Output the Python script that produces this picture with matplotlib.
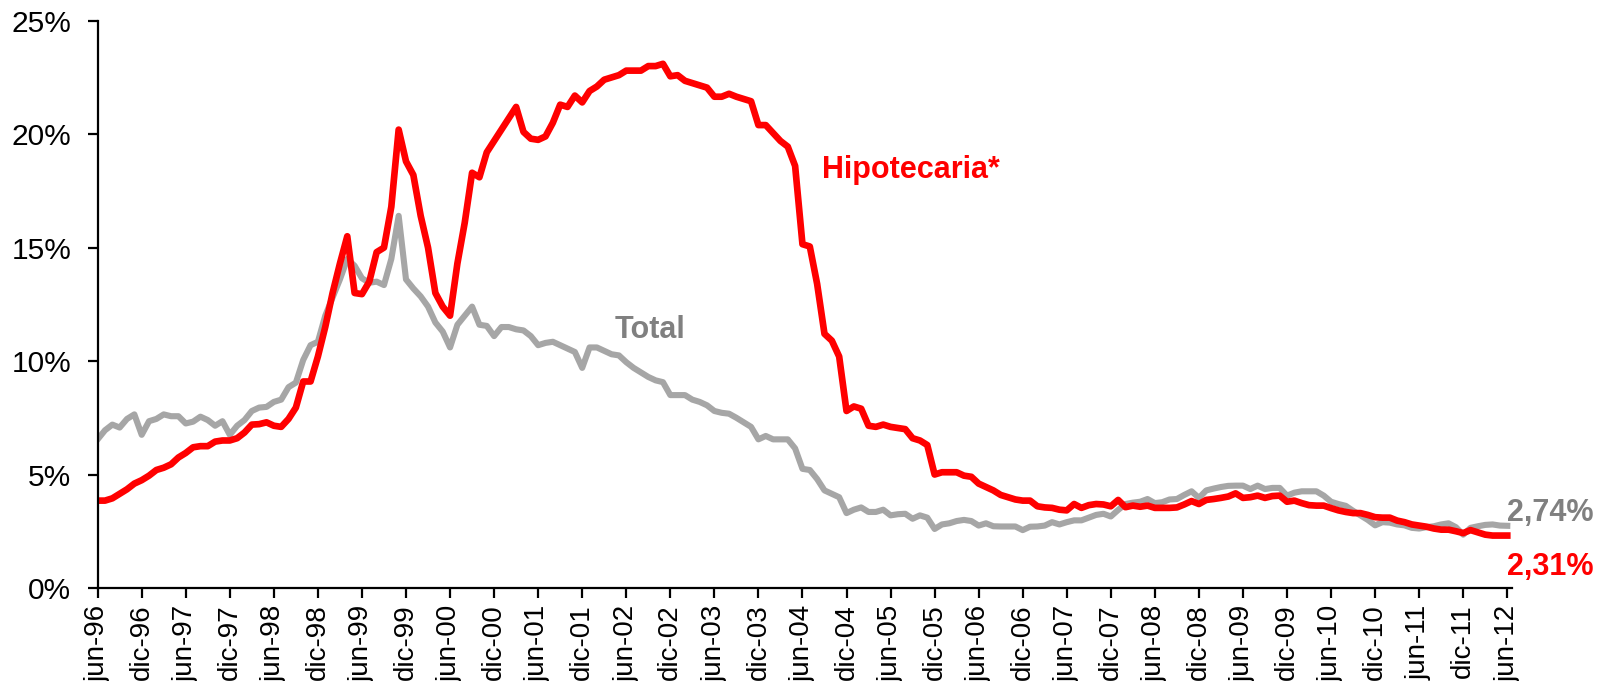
import matplotlib
matplotlib.use("Agg")
import matplotlib.pyplot as plt
import numpy as np

# tasa de morosidad mensual, jun-96 .. jun-12 (%)
hipotecaria = [
    3.85, 3.85, 3.95, 4.15, 4.35, 4.6, 4.75, 4.95, 5.2, 5.3, 5.45, 5.75, 5.95,
    6.2, 6.25, 6.25, 6.45, 6.5, 6.5, 6.6, 6.85, 7.2, 7.22, 7.3, 7.15,
    7.1, 7.45, 7.95, 9.1, 9.1, 10.2, 11.5, 13.0, 14.3, 15.5, 13.0, 12.95,
    13.5, 14.8, 15.0, 16.8, 20.2, 18.8, 18.2, 16.4, 15.0, 13.0, 12.4, 12.0, 14.3,
    16.1, 18.3, 18.1, 19.2, 19.7, 20.2, 20.7, 21.2, 20.1, 19.8, 19.75, 19.9,
    20.5, 21.3, 21.2, 21.7, 21.4, 21.9, 22.1, 22.4, 22.5, 22.6, 22.8, 22.8,
    22.8, 23.0, 23.0, 23.1, 22.55, 22.6, 22.35, 22.25, 22.15, 22.05, 21.65, 21.65,
    21.78, 21.65, 21.55, 21.45, 20.4, 20.4, 20.05, 19.7, 19.45, 18.6, 15.15, 15.05,
    13.4, 11.2, 10.9, 10.2, 7.8, 8.0, 7.9, 7.15, 7.1, 7.2, 7.1, 7.05,
    7.0, 6.6, 6.5, 6.3, 5.0, 5.1, 5.1, 5.1, 4.95, 4.9, 4.6, 4.45,
    4.3, 4.1, 4.0, 3.9, 3.85, 3.85, 3.6, 3.55, 3.53, 3.45, 3.42, 3.7, 3.53,
    3.65, 3.7, 3.68, 3.6, 3.88, 3.56, 3.63, 3.58, 3.63, 3.53, 3.53, 3.53,
    3.55, 3.68, 3.83, 3.7, 3.88, 3.92, 3.97, 4.03, 4.17, 3.97, 4.0, 4.07,
    3.97, 4.05, 4.07, 3.8, 3.85, 3.74, 3.65, 3.63, 3.63, 3.52, 3.42, 3.35,
    3.3, 3.3, 3.22, 3.12, 3.1, 3.1, 2.97, 2.9, 2.8, 2.75, 2.7,
    2.62, 2.57, 2.57, 2.5, 2.42, 2.55, 2.45, 2.35, 2.31, 2.31, 2.31,
]

total = [
    6.55, 6.95, 7.2, 7.07, 7.45, 7.65, 6.75, 7.35, 7.45, 7.65, 7.57, 7.57, 7.25,
    7.33, 7.55, 7.4, 7.15, 7.35, 6.75, 7.15, 7.4, 7.8, 7.95, 7.98, 8.2,
    8.3, 8.85, 9.05, 10.05, 10.7, 10.85, 12.0, 12.8, 13.6, 14.5, 14.2, 13.65,
    13.45, 13.5, 13.35, 14.5, 16.4, 13.6, 13.2, 12.85, 12.4, 11.7, 11.3, 10.6, 11.6,
    12.0, 12.4, 11.6, 11.55, 11.1, 11.5, 11.5, 11.4, 11.35, 11.1, 10.7, 10.8,
    10.85, 10.7, 10.55, 10.4, 9.7, 10.6, 10.6, 10.45, 10.3, 10.25, 9.95, 9.7,
    9.5, 9.3, 9.15, 9.07, 8.5, 8.5, 8.5, 8.3, 8.2, 8.05, 7.8, 7.72,
    7.68, 7.5, 7.3, 7.1, 6.55, 6.7, 6.55, 6.55, 6.55, 6.15, 5.25, 5.2,
    4.8, 4.3, 4.15, 4.0, 3.3, 3.45, 3.55, 3.35, 3.35, 3.45, 3.2, 3.25,
    3.27, 3.05, 3.2, 3.1, 2.6, 2.8, 2.85, 2.95, 3.0, 2.95, 2.75, 2.85,
    2.72, 2.71, 2.71, 2.71, 2.55, 2.7, 2.71, 2.75, 2.9, 2.8, 2.9, 2.98, 2.98,
    3.1, 3.22, 3.27, 3.15, 3.44, 3.7, 3.76, 3.8, 3.92, 3.74, 3.78, 3.9,
    3.92, 4.1, 4.26, 3.97, 4.3, 4.38, 4.45, 4.5, 4.51, 4.51, 4.36, 4.51,
    4.36, 4.41, 4.41, 4.07, 4.2, 4.26, 4.26, 4.26, 4.07, 3.8, 3.7, 3.62,
    3.4, 3.2, 3.0, 2.76, 2.9, 2.88, 2.8, 2.76, 2.65, 2.62, 2.68,
    2.72, 2.8, 2.85, 2.68, 2.35, 2.65, 2.72, 2.78, 2.8, 2.75, 2.74,
]

years = [f"{y % 100:02d}" for y in range(1996, 2013)]
tick_labels = []
for yy in years:
    tick_labels.append(f"jun-{yy}")
    if yy != "12":
        tick_labels.append(f"dic-{yy}")

y_ticks = [0, 5, 10, 15, 20, 25]
y_tick_labels = ["0%", "5%", "10%", "15%", "20%", "25%"]

RED = "#FF0000"
GRAY_LINE = "#A6A6A6"
GRAY_TEXT = "#808080"

plt.rcParams["font.family"] = ["Liberation Sans", "DejaVu Sans"]

fig = plt.figure(figsize=(16.14, 6.81), dpi=100)
ax = fig.add_axes([0.0605, 0.1366, 0.8761, 0.8330])

months = np.arange(len(total))
ax.plot(months, total, color=GRAY_LINE, linewidth=4.4, solid_joinstyle="round")
ax.plot(months, hipotecaria, color=RED, linewidth=4.8, solid_joinstyle="round")

ax.set_xlim(0, 192.6)
ax.set_ylim(0, 25)

ax.set_xticks(np.arange(0, len(total), 6))
ax.set_xticklabels(tick_labels, rotation=90, fontsize=20)
ax.set_yticks(y_ticks)
ax.set_yticklabels(y_tick_labels, fontsize=21.5)

for side in ["top", "right"]:
    ax.spines[side].set_visible(False)
for side in ["left", "bottom"]:
    ax.spines[side].set_linewidth(1.6)
ax.tick_params(axis="both", direction="out", length=7, width=1.6)
ax.tick_params(axis="y", pad=12)
ax.tick_params(axis="x", pad=5)

ax.text(70.4, 11.38, "Total", color=GRAY_TEXT, fontsize=22,
        fontweight="bold", ha="left", va="center")
ax.text(98.7, 18.43, "Hipotecaria*", color=RED, fontsize=22,
        fontweight="bold", ha="left", va="center")
ax.text(192.0, 3.3, "2,74%", color=GRAY_TEXT, fontsize=22,
        fontweight="bold", ha="left", va="center", clip_on=False)
ax.text(192.0, 0.93, "2,31%", color=RED, fontsize=22,
        fontweight="bold", ha="left", va="center", clip_on=False)

fig.savefig("out.png", dpi=100)
